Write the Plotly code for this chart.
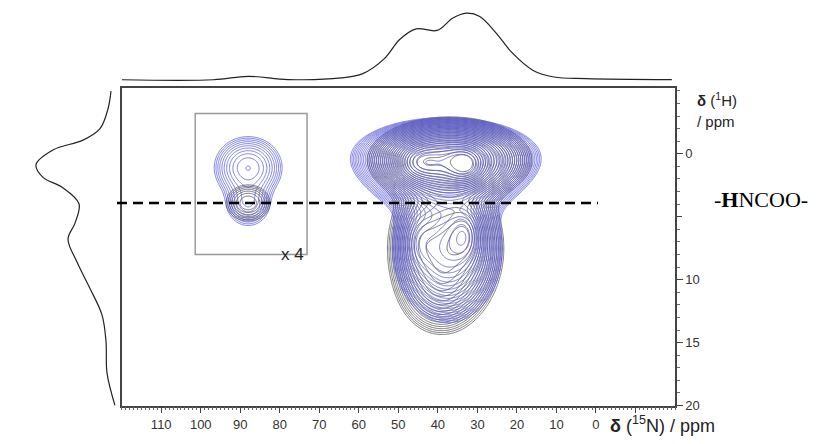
import numpy as np
import plotly.graph_objects as go

W, H = 838, 444

# ---- axis ranges (ppm) ----
N15_RANGE = [120, -20]      # 15N, reversed
H1_RANGE = [20, -5.2]       # 1H, reversed (down-field at bottom)
HNCOO_SHIFT = 3.9           # 1H shift of the urethane N-H

# ---- peak models: centre (15N, 1H), widths, amplitude ----
blue_main_n = [38.0, 38.0, 33.0, 44.5, 37.5, 33.0, 45.0]
blue_main_h = [0.2, 1.9, 0.9, 0.7, 7.5, 6.4, 7.0]
blue_main_sn = [10.0, 9.0, 3.0, 3.5, 7.0, 2.5, 2.5]
blue_main_sh = [1.3, 1.4, 0.9, 0.8, 3.0, 1.3, 1.5]
blue_main_a = [0.8, 0.45, 0.5, 0.3, 0.35, 0.15, 0.08]

grey_main_n = [37.0, 33.0, 44.5, 38.0, 33.0, 40.0, 45.0]
grey_main_h = [0.5, 0.9, 0.7, 7.5, 6.4, 11.0, 7.0]
grey_main_sn = [8.5, 2.5, 3.0, 7.0, 2.5, 5.0, 2.5]
grey_main_sh = [1.4, 0.8, 0.8, 3.0, 1.3, 1.8, 1.5]
grey_main_a = [1.0, 0.5, 0.3, 0.45, 0.2, 0.1, 0.1]

blue_box_n = [88.0, 88.0]
blue_box_h = [1.1, 3.9]
blue_box_sn = [4.0, 3.0]
blue_box_sh = [1.15, 1.0]
blue_box_a = [1.0, 0.5]

grey_box_n = [88.0]
grey_box_h = [3.9]
grey_box_sn = [3.1]
grey_box_sh = [0.8]
grey_box_a = [1.0]

# x4 inset region
box_n = [101.4, 73.1]
box_h = [-3.2, 8.0]

# ---- 1D projections ----
top_proj_ppm = [120, 96.8, 88, 77.9, 64.5, 59, 53.6, 49.6, 45.5, 40.2, 36.2,
                32.8, 29.4, 25.3, 21.3, 15.9, 10.6, 2.5, -19.2]
top_proj_int = [0.5, 0.5, 4, 0.7, 2.3, 6.7, 21.7, 41.7, 52.3, 50.7, 63.3,
                68.3, 65, 48.3, 28.3, 10, 3.3, 1.7, 0.7]

left_proj_ppm = [-4.98, -3.58, -2.0, -1.09, -0.31, 0.86, 1.87, 2.65, 3.97,
                 5.5, 6.77, 8.6, 10.7, 12.8, 14.9, 17.4, 20.0]
left_proj_int = [7, 10, 18, 35, 65, 82, 75, 56, 39, 43, 50, 41, 28, 16,
                 12, 11, 3]

# ---- ticks ----
n_label_vals = list(range(110, -1, -10))
n_label_text = [str(v) for v in n_label_vals]
n_plain_ticks = [-10]
h_label_vals = [0, 10, 15, 20]
h_label_text = [str(v) for v in h_label_vals]
h_plain_ticks = [5]


def surface(nn, hh, cn, ch, sn, sh, amp):
    N, Hh = np.meshgrid(nn, hh)
    z = np.zeros_like(N)
    for a, b, c, d, e in zip(cn, ch, sn, sh, amp):
        z += e * np.exp(-((N - a) ** 2 / (2 * c ** 2) + (Hh - b) ** 2 / (2 * d ** 2)))
    return np.log10(z + 1e-9)


BLUE = "rgba(85,85,220,0.75)"
GREY = "rgba(105,105,105,0.9)"


def contour(nn, hh, z, color, lo, hi, step):
    return go.Contour(
        x=nn, y=hh, z=z, xaxis="x", yaxis="y",
        contours=dict(coloring="lines", start=lo, end=hi, size=step),
        colorscale=[[0, color], [1, color]], showscale=False,
        line=dict(width=1), hoverinfo="skip",
    )


main_n = np.linspace(72, 4, 300)
main_h = np.linspace(-5, 16, 240)
box_grid_n = np.linspace(100, 75, 120)
box_grid_h = np.linspace(-3, 8, 120)

fig = go.Figure()

fig.add_trace(contour(main_n, main_h,
                      surface(main_n, main_h, grey_main_n, grey_main_h, grey_main_sn,
                              grey_main_sh, grey_main_a),
                      GREY, np.log10(0.05), 0.1, 0.055))
fig.add_trace(contour(main_n, main_h,
                      surface(main_n, main_h, blue_main_n, blue_main_h, blue_main_sn,
                              blue_main_sh, blue_main_a),
                      BLUE, np.log10(0.05), 0.1, 0.042))
fig.add_trace(contour(box_grid_n, box_grid_h,
                      surface(box_grid_n, box_grid_h, grey_box_n, grey_box_h, grey_box_sn,
                              grey_box_sh, grey_box_a),
                      GREY, np.log10(0.2), 0.0, 0.1))
fig.add_trace(contour(box_grid_n, box_grid_h,
                      surface(box_grid_n, box_grid_h, blue_box_n, blue_box_h, blue_box_sn,
                              blue_box_sh, blue_box_a),
                      BLUE, np.log10(0.1), 0.0, 0.1))

# projections
fig.add_trace(go.Scatter(x=top_proj_ppm, y=top_proj_int, xaxis="x", yaxis="y3",
                         mode="lines", line=dict(color="#222", width=1.2, shape="spline"),
                         hoverinfo="skip"))
fig.add_trace(go.Scatter(x=left_proj_int, y=left_proj_ppm, xaxis="x3", yaxis="y",
                         mode="lines", line=dict(color="#222", width=1.2, shape="spline"),
                         hoverinfo="skip"))
# empty trace carrying the tick-only overlay axes
fig.add_trace(go.Scatter(x=[None], y=[None], xaxis="x4", yaxis="y4",
                         mode="lines", hoverinfo="skip"))

x_dom = [121.7 / W, 675 / W]
y_dom = [1 - 413 / H, 1 - 90 / H]

axis_font = dict(family="Liberation Sans, Arial", size=13, color="#333")
minor = dict(dtick=1, tick0=0, ticks="outside", ticklen=3, tickcolor="#666")

fig.update_layout(
    width=W, height=H, margin=dict(l=0, r=0, t=0, b=0),
    paper_bgcolor="white", plot_bgcolor="white", showlegend=False,
    xaxis=dict(domain=x_dom, range=N15_RANGE, showgrid=False, zeroline=False,
               showline=True, linecolor="#444", linewidth=1.5, mirror=True,
               tickmode="array", tickvals=n_label_vals, ticktext=n_label_text,
               ticks="outside", ticklen=6, tickcolor="#444", tickfont=axis_font,
               minor=minor, anchor="y"),
    yaxis=dict(domain=y_dom, range=H1_RANGE, showgrid=False, zeroline=False,
               showline=True, linecolor="#444", linewidth=1.5, mirror=True,
               side="right", tickmode="array", tickvals=h_label_vals,
               ticktext=h_label_text, ticks="outside", ticklen=6, tickcolor="#444",
               tickfont=axis_font, minor=minor, anchor="x"),
    xaxis4=dict(overlaying="x", range=N15_RANGE, anchor="y", side="bottom",
                showgrid=False, zeroline=False, showline=False,
                tickmode="array", tickvals=n_plain_ticks, showticklabels=False,
                ticks="outside", ticklen=6, tickcolor="#444"),
    yaxis4=dict(overlaying="y", range=H1_RANGE, anchor="x", side="right",
                showgrid=False, zeroline=False, showline=False,
                tickmode="array", tickvals=h_plain_ticks, showticklabels=False,
                ticks="outside", ticklen=6, tickcolor="#444"),
    yaxis3=dict(domain=[1 - 90 / H, 1], range=[-8.3, 81.7], visible=False,
                anchor="x"),
    xaxis3=dict(domain=[0, 121.7 / W], range=[118, -3.7], visible=False,
                anchor="y"),
)

# x4 inset frame
fig.add_shape(type="rect", xref="x", yref="y", x0=box_n[0], x1=box_n[1],
              y0=box_h[0], y1=box_h[1], line=dict(color="#999", width=1.5))
# HNCOO level
fig.add_shape(type="line", xref="paper", yref="y", x0=117 / W, x1=598 / W,
              y0=HNCOO_SHIFT, y1=HNCOO_SHIFT,
              line=dict(color="black", width=2.5, dash="10px,6px"))

fig.add_annotation(x=box_n[1], y=box_h[1], xref="x", yref="y", text="x 4",
                   showarrow=False, xanchor="right", yanchor="middle", xshift=-1,
                   font=dict(family="Liberation Sans, Arial", size=17, color="#222"))
fig.add_annotation(x=695 / W, y=1 - 101 / H, xref="paper", yref="paper",
                   text="<b>δ</b> (<sup>1</sup>H)", showarrow=False,
                   xanchor="left", yanchor="middle",
                   font=dict(family="Liberation Sans, Arial", size=15, color="#222"))
fig.add_annotation(x=695 / W, y=1 - 124 / H, xref="paper", yref="paper",
                   text="/ ppm", showarrow=False, xanchor="left", yanchor="middle",
                   font=dict(family="Liberation Sans, Arial", size=15, color="#222"))
fig.add_annotation(x=608 / W, y=1 - 432 / H, xref="paper", yref="paper",
                   text="<b>δ</b> (<sup>15</sup>N) / ppm", showarrow=False,
                   xanchor="left", yanchor="middle",
                   font=dict(family="Liberation Sans, Arial", size=18, color="#222"))
fig.add_annotation(x=712 / W, y=1 - 203 / H, xref="paper", yref="paper",
                   text="-<b>H</b>NCOO-", showarrow=False, xanchor="left",
                   yanchor="middle",
                   font=dict(family="Liberation Serif, Times New Roman", size=22,
                             color="black"))

fig.write_html("out.html")
